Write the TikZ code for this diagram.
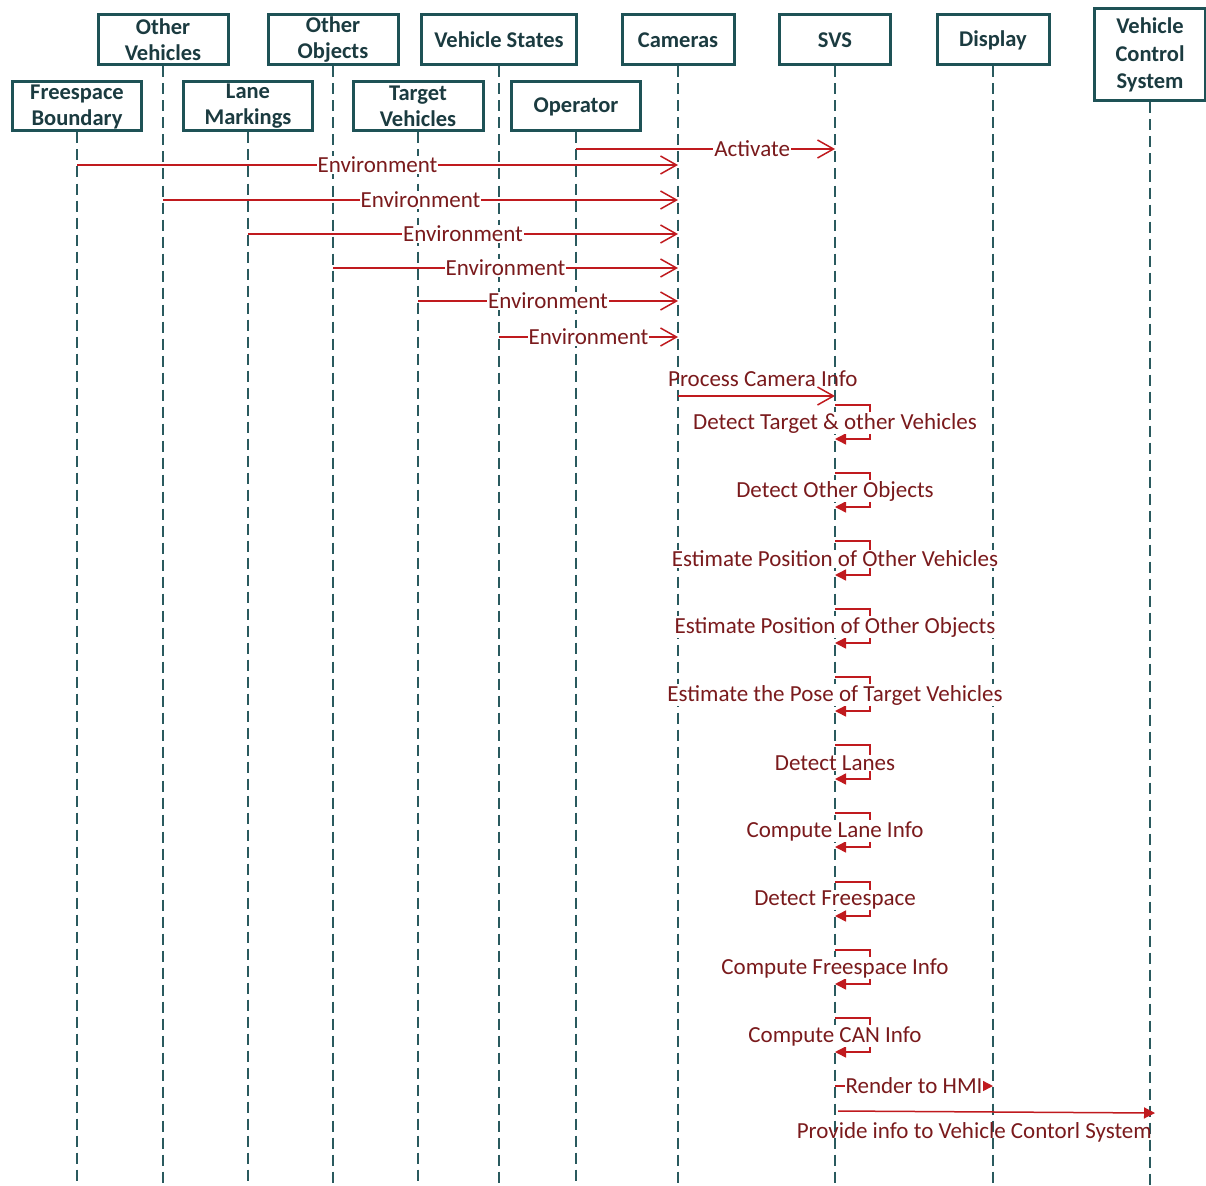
\documentclass[tikz,border=0pt]{standalone}
\usepackage{fontspec}
\setmainfont{Carlito}
\usetikzlibrary{arrows.meta}
\definecolor{boxc}{HTML}{1E5256}
\definecolor{headtxt}{HTML}{1B3B40}
\definecolor{lifec}{HTML}{2A5A5E}
\definecolor{msgc}{HTML}{C01A1E}
\definecolor{msgtxt}{HTML}{7A1A1C}
\begin{document}
\begin{tikzpicture}[x=1pt,y=-1pt,
  head/.style={draw=boxc,line width=3pt,fill=white,text=headtxt,
    font=\fontsize{22.5}{26}\selectfont\bfseries,align=center,inner sep=0pt,
    minimum height=50pt},
  life/.style={draw=lifec,line width=1.9pt,dash pattern=on 11pt off 6pt},
  msg/.style={draw=msgc,line width=1.5pt},
  openhead/.style={-{Straight Barb[length=16pt,width=18pt,line width=1.5pt]}},
  fullhead/.style={-{Triangle[length=11pt,width=11pt]}},
  lbl/.style={fill=white,text=msgtxt,inner sep=1pt,
    font=\fontsize{23}{26}\selectfont},
  selfmsg/.style={msg,fullhead}
]
\useasboundingbox (0,0) rectangle (1206,1185);
\coordinate (bottom) at (0,1185);

% lifeline heads, upper row
\node[head,minimum width=130pt] (ov)   at (163,40)  {Other\\Vehicles};
\node[head,minimum width=130pt] (oo)   at (333,40)  {Other\\Objects};
\node[head,minimum width=155pt] (vs)   at (499,40)  {Vehicle States};
\node[head,minimum width=112pt] (cam)  at (678,40)  {Cameras};
\node[head,minimum width=111pt] (svs)  at (835,40)  {SVS};
\node[head,minimum width=112pt] (disp) at (993,40)  {Display};
\node[head,minimum width=111pt,minimum height=92pt,
      font=\fontsize{22.5}{27.5}\selectfont\bfseries] (vcs) at (1150,55) {Vehicle\\Control\\System};
% lifeline heads, lower row
\node[head,minimum width=129pt,minimum height=49pt] (fb) at (77,106.5)  {Freespace\\Boundary};
\node[head,minimum width=129pt,minimum height=49pt] (lm) at (248,106.5) {Lane\\Markings};
\node[head,minimum width=130pt,minimum height=49pt] (tv) at (418,106.5) {Target\\Vehicles};
\node[head,minimum width=129pt,minimum height=49pt] (op) at (576,106.5) {Operator};

% dashed lifelines
\foreach \n in {ov,oo,vs,cam,svs,disp,vcs,fb,lm,tv,op}
  \draw[life] (\n.south) -- (\n |- bottom);

% heads drawn again so the lifelines stay behind them
\node[head,minimum width=130pt] at (163,40)  {Other\\Vehicles};
\node[head,minimum width=130pt] at (333,40)  {Other\\Objects};
\node[head,minimum width=155pt] at (499,40)  {Vehicle States};
\node[head,minimum width=112pt] at (678,40)  {Cameras};
\node[head,minimum width=111pt] at (835,40)  {SVS};
\node[head,minimum width=112pt] at (993,40)  {Display};
\node[head,minimum width=111pt,minimum height=92pt,
      font=\fontsize{22.5}{27.5}\selectfont\bfseries] at (1150,55) {Vehicle\\Control\\System};
\node[head,minimum width=129pt,minimum height=49pt] at (77,106.5)  {Freespace\\Boundary};
\node[head,minimum width=129pt,minimum height=49pt] at (248,106.5) {Lane\\Markings};
\node[head,minimum width=130pt,minimum height=49pt] at (418,106.5) {Target\\Vehicles};
\node[head,minimum width=129pt,minimum height=49pt] at (576,106.5) {Operator};

% message rows
\coordinate (ya) at (0,149);
\coordinate (e1) at (0,165);
\coordinate (e2) at (0,200);
\coordinate (e3) at (0,234);
\coordinate (e4) at (0,268);
\coordinate (e5) at (0,301);
\coordinate (e6) at (0,337);
\coordinate (pc) at (0,396);

\draw[msg,openhead] (op |- ya) -- node[lbl,pos=0.68] {Activate} (svs |- ya);
\draw[msg,openhead] (fb |- e1) -- node[lbl] {Environment} (cam |- e1);
\draw[msg,openhead] (ov |- e2) -- node[lbl] {Environment} (cam |- e2);
\draw[msg,openhead] (lm |- e3) -- node[lbl] {Environment} (cam |- e3);
\draw[msg,openhead] (oo |- e4) -- node[lbl] {Environment} (cam |- e4);
\draw[msg,openhead] (tv |- e5) -- node[lbl] {Environment} (cam |- e5);
\draw[msg,openhead] (vs |- e6) -- node[lbl] {Environment} (cam |- e6);
\draw[msg,openhead] (cam |- pc) -- node[lbl,pos=0.54,above=9pt,fill=none,inner sep=0pt] {Process Camera Info} (svs |- pc);

% self messages on SVS
\foreach \t/\txt in {
  405/{Detect Target \& other Vehicles},
  473/{Detect Other Objects},
  541/{Estimate Position of Other Vehicles},
  609/{Estimate Position of Other Objects},
  677/{Estimate the Pose of Target Vehicles},
  745/{Detect Lanes},
  813/{Compute Lane Info},
  882/{Detect Freespace},
  950/{Compute Freespace Info},
  1018/{Compute CAN Info}} {
  \coordinate (st) at (0,\t);
  \coordinate (sb) at (0,\t+34);
  \coordinate (sm) at (0,\t+18);
  \draw[selfmsg] (svs |- st) -- ++(35,0) -- ++(0,34) -- (svs |- sb);
  \node[lbl] at (svs |- sm) {\txt};
}

% outgoing messages
\coordinate (rh) at (0,1086);
\coordinate (p1) at (0,1111);
\coordinate (p2) at (0,1113);
\draw[msg,fullhead] (svs |- rh) -- node[lbl] {Render to HMI} (disp |- rh);
\draw[msg,fullhead] ([xshift=3pt]svs |- p1) -- node[lbl,pos=0.43,below=10pt,inner sep=0pt,fill=none] {Provide info to Vehicle Contorl System} ([xshift=5pt]vcs |- p2);
\end{tikzpicture}
\end{document}
